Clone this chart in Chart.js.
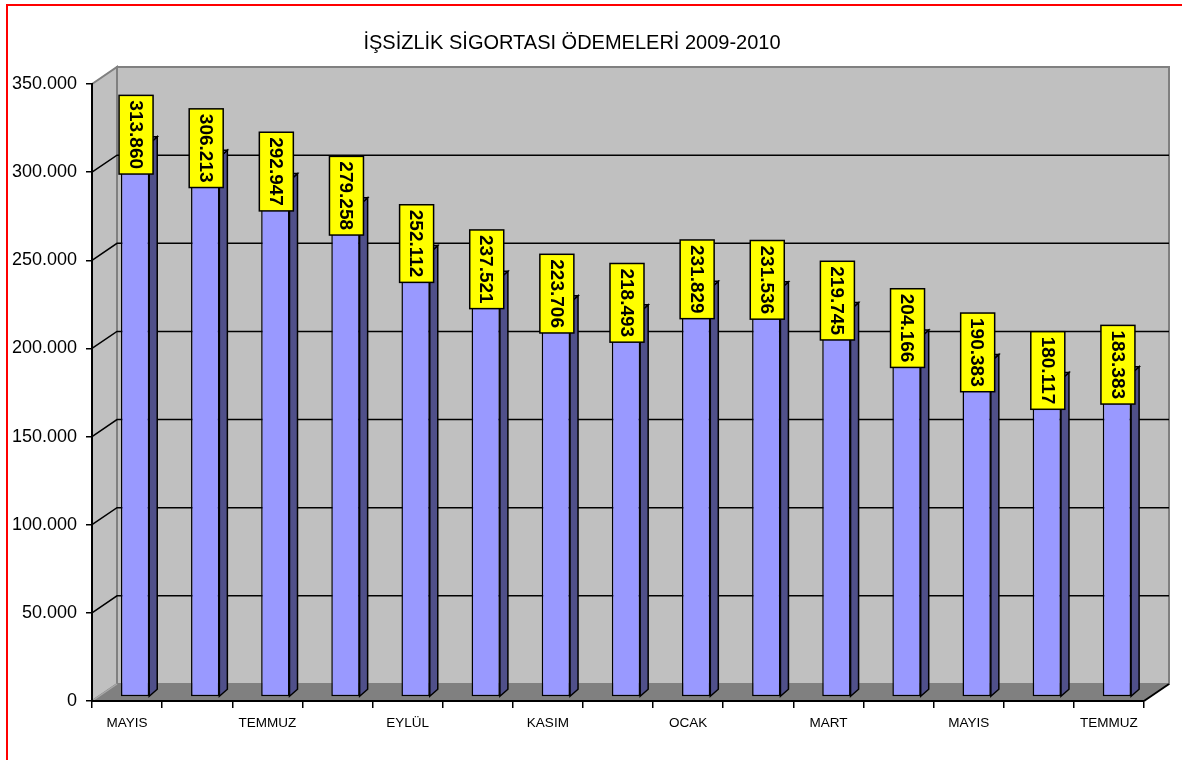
<!DOCTYPE html>
<html>
<head>
<meta charset="utf-8">
<script src="https://cdn.jsdelivr.net/npm/chart.js@4.4.0/dist/chart.umd.min.js"></script>
<style>
    html, body { margin: 0; padding: 0; background: #fff; overflow: hidden; }
    #frame { position: absolute; left: 6px; top: 4px; width: 1200px; height: 800px; border: 2px solid #f00; }
    canvas { position: absolute; left: 0; top: 0; }
</style>
</head>
<body>
<div id="frame"></div>
<canvas id="barChart" width="1182" height="760"></canvas>
<script>
    /*global Chart*/
    var months = ["MAYIS", "HAZİRAN", "TEMMUZ", "AĞUSTOS", "EYLÜL", "EKİM", "KASIM", "ARALIK",
                  "OCAK", "ŞUBAT", "MART", "NİSAN", "MAYIS", "HAZİRAN", "TEMMUZ"];
    var payments = [313860, 306213, 292947, 279258, 252112, 237521, 223706, 218493,
                    231829, 231536, 219745, 204166, 190383, 180117, 183383];
    var yMax = 350000;
    var yStep = 50000;

    // 3d look: wall depth, bar shift and bar depth
    var DX = 25, DY = -17;
    var BX = 8, BY = -4;
    var SX = 8, SY = -7;

    function trNumber(v) {
        return String(v).replace(/\B(?=(\d{3})+(?!\d))/g, '.');
    }

    Chart.defaults.font.family = '"Liberation Sans", Arial, sans-serif';
    Chart.defaults.color = '#000';

    var wallsPlugin = {
        id: 'walls',
        beforeDraw: function (chart) {
            var ctx = chart.ctx, a = chart.chartArea, ys = chart.scales.y;
            ctx.save();
            ctx.fillStyle = '#c0c0c0';
            ctx.strokeStyle = '#808080';
            ctx.lineWidth = 2;
            // left wall
            ctx.beginPath();
            ctx.moveTo(a.left, a.top);
            ctx.lineTo(a.left + DX, a.top + DY);
            ctx.lineTo(a.left + DX, a.bottom + DY);
            ctx.lineTo(a.left, a.bottom);
            ctx.closePath();
            ctx.fill();
            ctx.stroke();
            // back wall
            ctx.fillRect(a.left + DX, a.top + DY, a.right - a.left, a.bottom - a.top);
            ctx.strokeRect(a.left + DX, a.top + DY, a.right - a.left, a.bottom - a.top);
            // floor
            ctx.fillStyle = '#808080';
            ctx.beginPath();
            ctx.moveTo(a.left, a.bottom);
            ctx.lineTo(a.left + DX, a.bottom + DY);
            ctx.lineTo(a.right + DX, a.bottom + DY);
            ctx.lineTo(a.right, a.bottom);
            ctx.closePath();
            ctx.fill();
            ctx.strokeStyle = '#a8a8a8';
            ctx.lineWidth = 1.5;
            ctx.beginPath();
            ctx.moveTo(a.left, a.bottom);
            ctx.lineTo(a.left + DX, a.bottom + DY);
            ctx.stroke();
            ctx.strokeStyle = '#000';
            ctx.lineWidth = 2;
            ctx.beginPath();
            ctx.moveTo(a.right, a.bottom);
            ctx.lineTo(a.right + DX, a.bottom + DY);
            ctx.stroke();
            // grid lines on the back wall
            ctx.lineWidth = 1.5;
            ys.ticks.forEach(function (t) {
                if (t.value <= 0 || t.value >= yMax) return;
                var py = ys.getPixelForValue(t.value);
                ctx.beginPath();
                ctx.moveTo(a.left, py);
                ctx.lineTo(a.left + DX, py + DY);
                ctx.lineTo(a.right + DX, py + DY);
                ctx.stroke();
            });
            ctx.restore();
        },
        beforeDatasetDraw: function (chart) {
            chart.ctx.save();
            chart.ctx.translate(BX, BY);
        },
        afterDatasetDraw: function (chart, args) {
            var ctx = chart.ctx;
            ctx.lineWidth = 1.5;
            ctx.strokeStyle = '#000';
            args.meta.data.forEach(function (bar) {
                var p = bar.getProps(['x', 'y', 'base', 'width'], true);
                var l = p.x - p.width / 2, r = p.x + p.width / 2;
                ctx.fillStyle = '#50508a';
                ctx.beginPath();
                ctx.moveTo(r, p.base);
                ctx.lineTo(r + SX, p.base + SY);
                ctx.lineTo(r + SX, p.y + SY);
                ctx.lineTo(r, p.y);
                ctx.closePath();
                ctx.fill();
                ctx.stroke();
                ctx.fillStyle = '#7878c8';
                ctx.beginPath();
                ctx.moveTo(l, p.y);
                ctx.lineTo(l + SX, p.y + SY);
                ctx.lineTo(r + SX, p.y + SY);
                ctx.lineTo(r, p.y);
                ctx.closePath();
                ctx.fill();
                ctx.stroke();
            });
            ctx.restore();
        },
        afterDatasetsDraw: function (chart) {
            var ctx = chart.ctx;
            var meta = chart.getDatasetMeta(0);
            ctx.save();
            ctx.font = 'bold 19px "Liberation Sans", Arial, sans-serif';
            ctx.textAlign = 'center';
            ctx.textBaseline = 'middle';
            meta.data.forEach(function (bar, i) {
                var p = bar.getProps(['x', 'y'], true);
                var txt = trNumber(payments[i]);
                var tw = ctx.measureText(txt).width;
                var cx = p.x + BX + 1, cy = p.y + BY - 9;
                var bw = 34, bh = tw + 10;
                ctx.fillStyle = '#ffff00';
                ctx.fillRect(cx - bw / 2, cy - bh / 2, bw, bh);
                ctx.strokeStyle = '#000';
                ctx.lineWidth = 1.5;
                ctx.strokeRect(cx - bw / 2, cy - bh / 2, bw, bh);
                ctx.save();
                ctx.translate(cx, cy);
                ctx.rotate(Math.PI / 2);
                ctx.fillStyle = '#000';
                ctx.fillText(txt, 0, 1);
                ctx.restore();
            });
            ctx.restore();
        }
    };

    var barData = {
        labels: months,
        datasets: [{
            data: payments,
            backgroundColor: '#9999ff',
            borderColor: '#000',
            borderWidth: 1.5,
            borderSkipped: false,
            barPercentage: 0.404,
            categoryPercentage: 1,
            clip: false
        }]
    };

    var barOptions = {
        responsive: false,
        animation: false,
        layout: { padding: { left: 0, right: 38, top: 0, bottom: 0 } },
        plugins: {
            legend: { display: false },
            tooltip: { enabled: false },
            title: {
                display: true,
                text: 'İŞSİZLİK SİGORTASI ÖDEMELERİ 2009-2010',
                color: '#000',
                font: { size: 20, weight: 'normal', lineHeight: 1.2 },
                padding: { top: 31, bottom: 29 }
            }
        },
        scales: {
            x: {
                afterFit: function (scale) { scale.height = 59; },
                grid: { display: true, drawOnChartArea: false, drawTicks: true, tickLength: 7, color: '#000', lineWidth: 1.5 },
                border: { display: true, color: '#000', width: 2 },
                ticks: {
                    autoSkip: false,
                    maxRotation: 0,
                    padding: 7,
                    color: '#000',
                    font: { size: 13.5 },
                    callback: function (v, i) { return i % 2 === 0 ? this.getLabelForValue(v) : ''; }
                }
            },
            y: {
                min: 0,
                max: yMax,
                afterFit: function (scale) { scale.width = 92; },
                grid: { display: true, drawOnChartArea: false, drawTicks: true, tickLength: 6, color: '#000', lineWidth: 1.5 },
                border: { display: true, color: '#000', width: 2 },
                ticks: {
                    stepSize: yStep,
                    padding: 9,
                    color: '#000',
                    font: { size: 18 },
                    callback: function (v) { return trNumber(v); }
                }
            }
        }
    };

    var ctx = document.getElementById("barChart").getContext("2d");
    new Chart(ctx, { type: 'bar', data: barData, options: barOptions, plugins: [wallsPlugin] });
</script>
</body>
</html>
